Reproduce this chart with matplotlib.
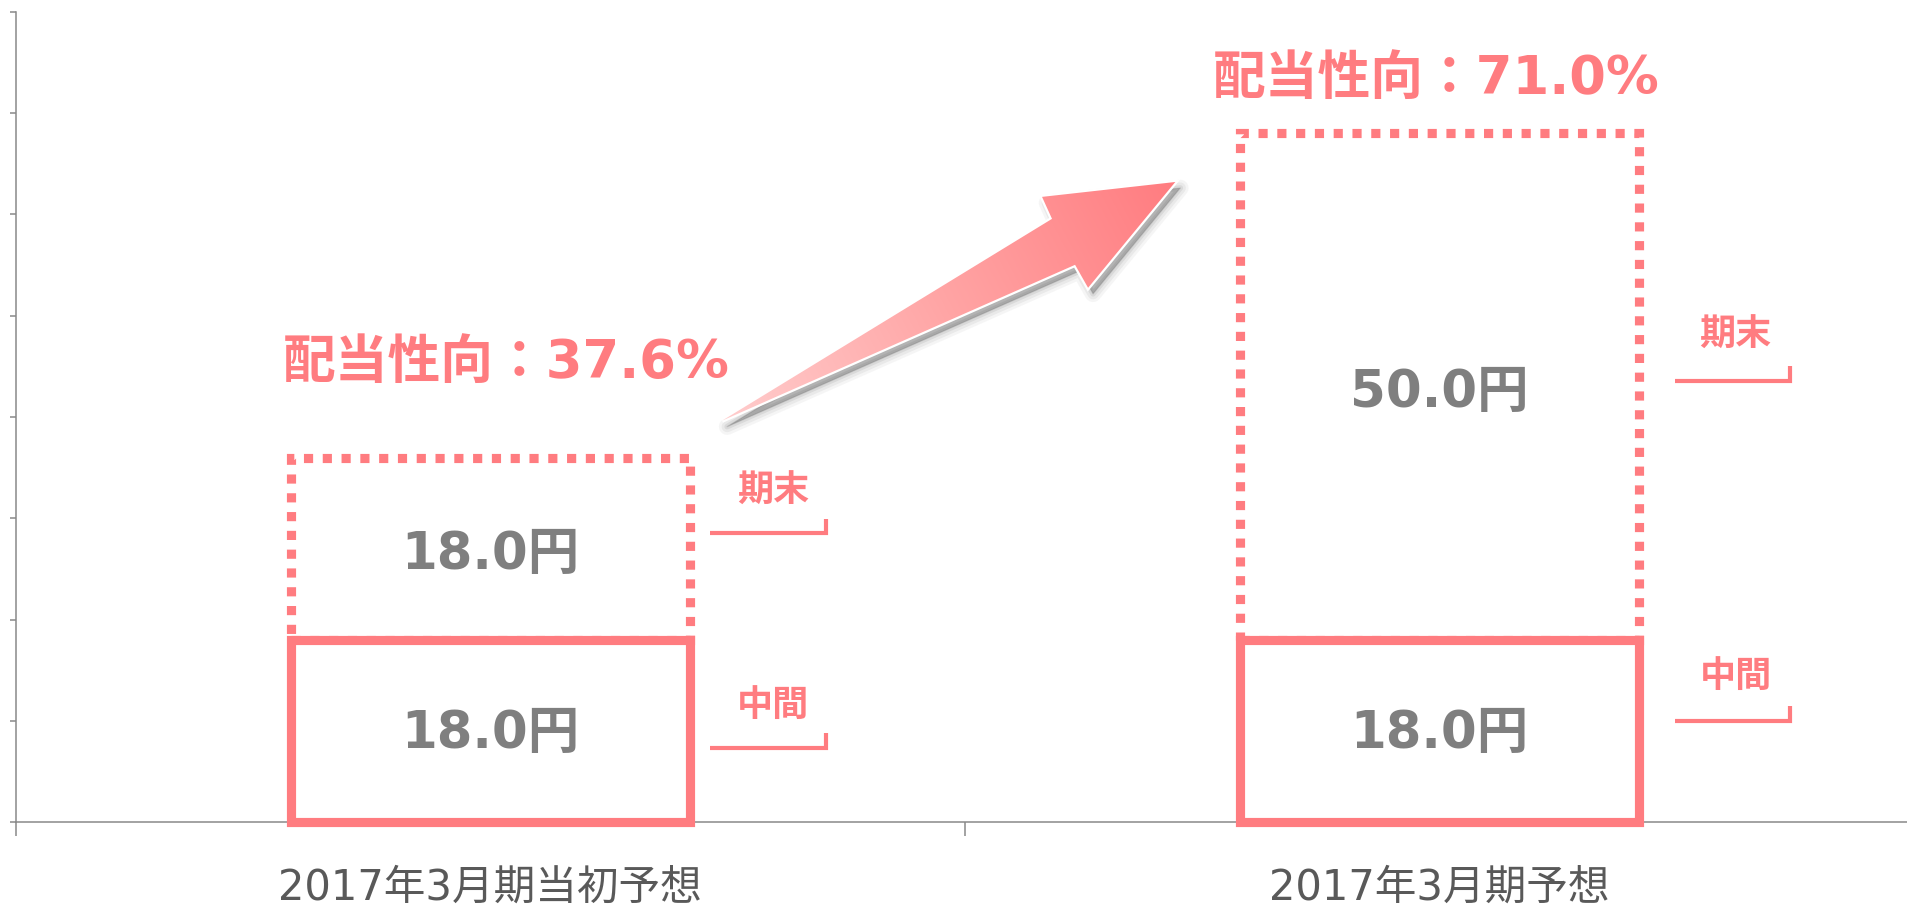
import numpy as np
import matplotlib
matplotlib.use('Agg')
import matplotlib.pyplot as plt
from matplotlib.patches import Polygon
from matplotlib.colors import LinearSegmentedColormap
import matplotlib.transforms as mtransforms

# ---------------- data ----------------
categories = ['2017年3月期当初予想', '2017年3月期予想']
interim = [18.0, 18.0]        # 中間配当
year_end = [18.0, 50.0]       # 期末配当
payout_ratio = [37.6, 71.0]   # 配当性向 (%)
segment_names = ['中間', '期末']

# ---------------- style ----------------
PINK = '#FF7C80'
VALUE_GRAY = '#7F7F7F'
CAT_GRAY = '#595959'
AXIS_GRAY = '#898989'

plt.rcParams['font.family'] = ['DejaVu Sans', 'Noto Sans CJK JP']

fig = plt.figure(figsize=(19.08, 9.08), dpi=100)
ax = fig.add_axes([0.0082, 0.0947, 0.9950, 0.8921])

x = np.arange(len(categories))
bar_w = 0.42

# 期末 (dotted outline) then 中間 (solid outline)
ax.bar(x, year_end, bottom=interim, width=bar_w, facecolor='none',
       edgecolor=PINK, linewidth=6.6, linestyle=(0, (1, 1.05)),
       clip_on=False, zorder=2)
ax.bar(x, interim, width=bar_w, facecolor='white', edgecolor=PINK,
       linewidth=6.6, clip_on=False, zorder=3)

# value labels
for xi, a, b in zip(x, interim, year_end):
    ax.text(xi, a / 2 - 0.3, f'{a:.1f}円', ha='center', va='center',
            fontsize=37, fontweight='bold', color=VALUE_GRAY, zorder=7)
    ax.text(xi, a + b / 2 - 0.6, f'{b:.1f}円', ha='center', va='center',
            fontsize=37, fontweight='bold', color=VALUE_GRAY, zorder=7)

# payout ratio labels
ratio_pos = [(0.017, 45.3), (0.997, 73.4)]
for (px, py), r in zip(ratio_pos, payout_ratio):
    ax.text(px, py, f'配当性向：{r:.1f}%', ha='center', va='center',
            fontsize=38, fontweight='bold', color=PINK, zorder=7)

# bracket labels (中間 / 期末)
brackets = [
    # (x_left, x_right, y_line, label_x, label_y, name)
    (0.232, 0.354, 7.3, 0.298, 11.5, segment_names[0]),
    (0.232, 0.354, 28.5, 0.298, 32.6, segment_names[1]),
    (1.248, 1.369, 10.0, 1.312, 14.3, segment_names[0]),
    (1.248, 1.369, 43.6, 1.312, 48.0, segment_names[1]),
]
for xl, xr, yl, lx, ly, name in brackets:
    ax.plot([xl, xr, xr], [yl, yl, yl + 1.45], color=PINK, lw=3,
            solid_joinstyle='miter', solid_capstyle='butt', zorder=6)
    ax.text(lx, ly, name, ha='center', va='center', fontsize=26,
            fontweight='bold', color=PINK, zorder=7)

# ---------------- arrow (gradient, white outline, soft shadow) ----------------
arrow_pts = np.array([
    [0.2443, 39.64],   # tail
    [0.5918, 59.57],   # upper notch
    [0.5813, 61.74],   # upper barb
    [0.7217, 63.21],   # tip
    [0.6298, 52.76],   # lower barb
    [0.6161, 55.03],   # lower notch
])
for lw, al in [(12, 0.05), (8, 0.07), (4, 0.10), (1, 0.16)]:
    tr = mtransforms.offset_copy(ax.transData, fig=fig, x=5, y=-6, units='dots')
    sh = Polygon(arrow_pts, closed=True, facecolor=(0.3, 0.3, 0.3, al),
                 edgecolor=(0.3, 0.3, 0.3, al), linewidth=lw,
                 joinstyle='round', transform=tr, zorder=4)
    ax.add_patch(sh)

white_base = Polygon(arrow_pts, closed=True, facecolor='white', edgecolor='white',
                     linewidth=3.2, joinstyle='miter', zorder=5)
ax.add_patch(white_base)

clip_poly = Polygon(arrow_pts, closed=True, facecolor='none', edgecolor='none',
                    transform=ax.transData)
ax.add_patch(clip_poly)
xmin, ymin = arrow_pts.min(axis=0)
xmax, ymax = arrow_pts.max(axis=0)
gx = np.linspace(xmin, xmax, 500)
gy = np.linspace(ymin, ymax, 300)
GX, GY = np.meshgrid(gx, gy)
sx, sy = 949.2, 10.125
tail, tip = arrow_pts[0], arrow_pts[3]
d = np.array([(tip[0] - tail[0]) * sx, (tip[1] - tail[1]) * sy])
t = ((GX - tail[0]) * sx * d[0] + (GY - tail[1]) * sy * d[1]) / (d @ d)
t = np.clip(t, 0, 1)
cmap = LinearSegmentedColormap.from_list('arrow', ['#FFCDCD', '#FFA4A4', '#FF7C80'])
im = ax.imshow(t, extent=[xmin, xmax, ymin, ymax], origin='lower', cmap=cmap,
               vmin=0, vmax=1, aspect='auto', interpolation='bilinear', zorder=5.5)
im.set_clip_path(clip_poly)

# ---------------- axes ----------------
ax.set_xlim(-0.5, 1.5)
ax.set_ylim(0, 80)
ax.set_yticks(np.arange(0, 81, 10))
ax.tick_params(axis='y', direction='out', length=4.3, width=1.1,
               color=AXIS_GRAY, labelleft=False)
ax.set_xticks([-0.5, 0.5, 1.5])
ax.set_xticklabels([])
ax.tick_params(axis='x', which='major', direction='out', length=10, width=1.1,
               color=AXIS_GRAY)
ax.set_xticks(x, minor=True)
ax.set_xticklabels(categories, minor=True)
ax.tick_params(axis='x', which='minor', length=0, pad=47, labelsize=30,
               labelcolor=CAT_GRAY)
for lbl in ax.get_xticklabels(minor=True):
    lbl.set_va('center')

for side in ['top', 'right']:
    ax.spines[side].set_visible(False)
for side in ['left', 'bottom']:
    ax.spines[side].set_color(AXIS_GRAY)
    ax.spines[side].set_linewidth(1.1)
ax.set_facecolor('white')
fig.patch.set_facecolor('white')

fig.savefig('out.png', dpi=100)
